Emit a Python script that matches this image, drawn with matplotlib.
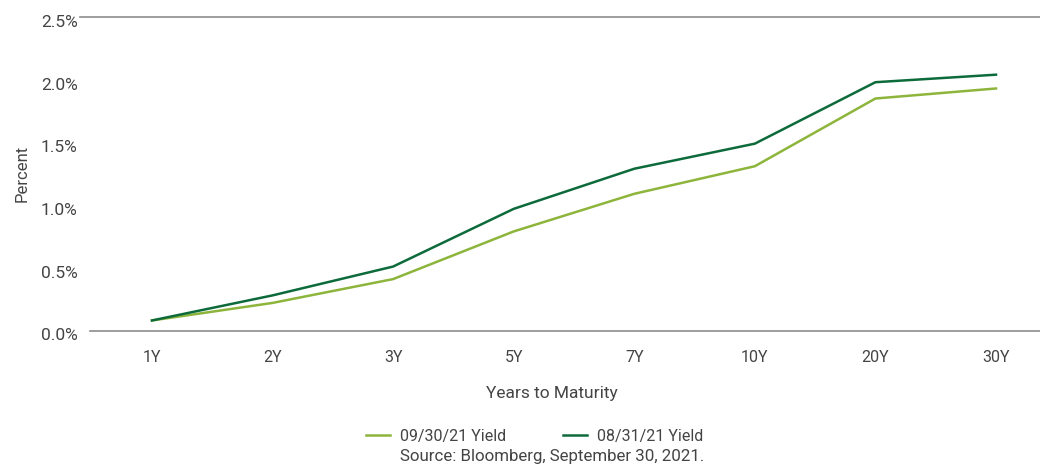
import matplotlib
matplotlib.use("Agg")
import matplotlib.pyplot as plt
import matplotlib.transforms as mtransforms
from matplotlib.ticker import FuncFormatter

plt.rcParams['font.family'] = ['Roboto', 'DejaVu Sans']

# data
maturities = ['1Y', '2Y', '3Y', '5Y', '7Y', '10Y', '20Y', '30Y']
yield_0930 = [0.08, 0.22, 0.41, 0.79, 1.09, 1.31, 1.85, 1.93]
yield_0831 = [0.08, 0.28, 0.51, 0.97, 1.29, 1.49, 1.98, 2.04]
y_ticks = [0.0, 0.5, 1.0, 1.5, 2.0, 2.5]

light_green = '#8db53c'
dark_green = '#0d6b3b'
text_col = '#444444'
axis_col = '#8c8c8c'

fig = plt.figure(figsize=(10.4, 4.66), dpi=100)
ax = fig.add_axes([90 / 1040, 1 - 330.5 / 466, 950 / 1040, (330.5 - 17) / 466])

x = range(len(maturities))
ax.plot(x, yield_0930, color=light_green, lw=1.8, label='09/30/21 Yield')
ax.plot(x, yield_0831, color=dark_green, lw=1.8, label='08/31/21 Yield')

ax.set_xlim(-0.514, 7.365)
ax.set_ylim(0, 2.5)
ax.set_yticks(y_ticks)
ax.yaxis.set_major_formatter(FuncFormatter(lambda v, p: f'{v:.1f}%'))
ax.set_xticks(list(x))
ax.set_xticklabels(maturities)

for s in ['top', 'right', 'left']:
    ax.spines[s].set_visible(False)
ax.spines['bottom'].set_color(axis_col)
ax.spines['bottom'].set_linewidth(1.2)
ax.axhline(2.5, xmin=-10 / 950, xmax=1, color=axis_col, lw=1.2, clip_on=False)

ax.tick_params(axis='both', length=0, labelsize=11.5, colors=text_col)
ax.tick_params(axis='x', pad=14)
ax.tick_params(axis='y', pad=9, labelsize=12.5)

# y labels sit a few pixels below their values in the original
shift = mtransforms.ScaledTranslation(0, -4 / 100, fig.dpi_scale_trans)
for lab in ax.get_yticklabels():
    lab.set_transform(lab.get_transform() + shift)

ax.set_xlabel('Years to Maturity', fontsize=12.5, color=text_col, labelpad=15)
ax.xaxis.label.set_x((552 - 90) / 950)
ax.set_ylabel('Percent', fontsize=12, color=text_col, labelpad=8)

fig.legend(loc='center', bbox_to_anchor=(0.514, 1 - 436 / 466), ncol=2,
           frameon=False, fontsize=11.5, handlelength=1.5, handletextpad=0.6,
           columnspacing=3.6, labelcolor=text_col)
fig.text(552 / 1040, 1 - 456 / 466, 'Source: Bloomberg, September 30, 2021.',
         ha='center', va='center', fontsize=12.2, color=text_col)

fig.savefig('out.png', dpi=100)
